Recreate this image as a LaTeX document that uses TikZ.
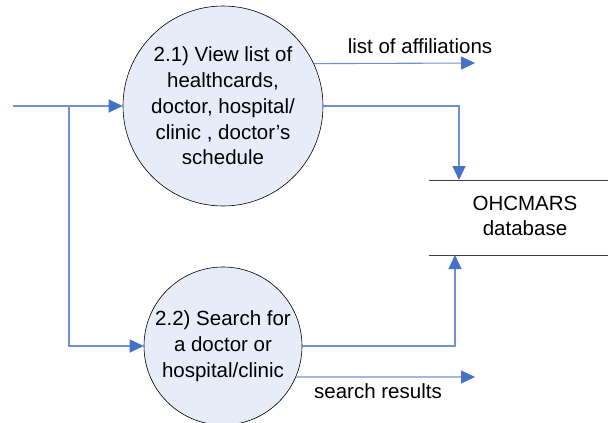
\documentclass[tikz,border=0pt]{standalone}
\usepackage{fontspec}
\setmainfont{Liberation Sans}
\usetikzlibrary{arrows.meta}
\definecolor{lineblue}{RGB}{112,146,208}
\definecolor{tipblue}{RGB}{68,114,196}
\definecolor{circfill}{RGB}{230,237,248}
\definecolor{dbgray}{RGB}{64,64,64}
\begin{document}
\begin{tikzpicture}[x=1pt,y=-1pt,
  proc/.style={circle, draw=black, line width=0.6pt, fill=circfill, inner sep=0pt, align=center,
    font=\fontsize{20.5}{25.7}\selectfont},
  flow/.style={draw=lineblue, line width=1.1pt, -{Triangle[length=14pt,width=13pt,color=tipblue]}},
  lbl/.style={inner sep=0pt, font=\fontsize{20.5}{25.7}\selectfont},
  dbline/.style={draw=dbgray, line width=1pt}]
\useasboundingbox (0,0) rectangle (608,423);
\node[proc, minimum size=200pt] (p1) at (223,106) {2.1) View list of\\healthcards,\\doctor, hospital/\\clinic , doctor’s\\schedule};
\node[proc, minimum size=158pt] (p2) at (223,346) {2.2) Search for\\a doctor or\\hospital/clinic};
\node[lbl, align=center] (db) at (525,216) {OHCMARS\\database};
\coordinate (dbtl) at (429,180);
\coordinate (dbtr) at (608,180);
\coordinate (dbbl) at (429,255);
\coordinate (dbbr) at (608,255);
\coordinate (dbtop) at (459,180);
\coordinate (dbbot) at (455,255);
\draw[dbline] (dbtl) -- (dbtr);
\draw[dbline] (dbbl) -- (dbbr);
\coordinate (in) at (13,106);
\coordinate (split) at (69,106);
\coordinate (aff) at (475,63);
\coordinate (res) at (475,377);
\draw[flow] (in) -- (p1.west);
\draw[flow] (split) |- (p2.west);
\draw[flow] (p1.25) -- (aff);
\node[lbl] (afflbl) at (420,46) {list of affiliations};
\draw[flow] (p1.east) -| (dbtop);
\draw[flow] (p2.east) -| (dbbot);
\draw[flow] (p2.-23) -- (res);
\node[lbl] (reslbl) at (378,391) {search results};
\end{tikzpicture}
\end{document}
